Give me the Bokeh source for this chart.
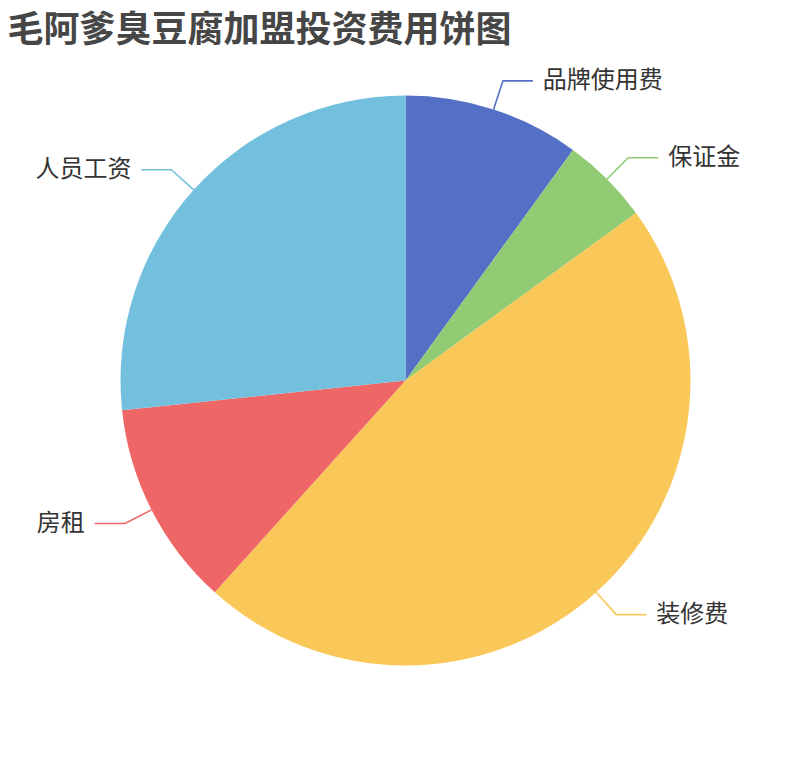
import math
import numpy as np
from bokeh.plotting import figure
from bokeh.models import Range1d, ColumnDataSource
from bokeh.core.properties import value
from bokeh.embed import file_html
from bokeh.resources import INLINE

# ---- data ----
title_text = "毛阿爹臭豆腐加盟投资费用饼图"
names = ["品牌使用费", "保证金", "装修费", "房租", "人员工资"]
amounts = [30000, 15000, 140000, 35000, 80000]
colors = ["#5470c6", "#91cc75", "#fac858", "#ee6666", "#73c0de"]

# ---- layout ----
W, H = 794, 744
CX, CY = 405, 380          # pie centre (data coords, y up)
R = 285
L1, L2, GAP = 30, 30, 10
FONT = "Noto Sans CJK SC"

p = figure(width=W, height=H, output_backend="svg", toolbar_location=None,
           x_range=Range1d(0, W), y_range=Range1d(760 - H, 760),
           min_border=0, outline_line_color=None, background_fill_color="white")
p.axis.visible = False
p.grid.visible = False

vals = np.array(amounts, dtype=float)
frac = vals / vals.sum()
cum_end = np.cumsum(frac)
cum_start = cum_end - frac
start = [math.radians(90 - s * 360) for s in cum_start]
end = [math.radians(90 - e * 360) for e in cum_end]

src = ColumnDataSource(dict(start=start, end=end, color=colors, name=names))
p.wedge(x=CX, y=CY, radius=R, radius_units="screen", start_angle="start", end_angle="end",
        direction="clock", fill_color="color", line_color=None, source=src)

# label lines + labels
for nm, cs, f, col in zip(names, cum_start, frac, colors):
    th = (cs + f / 2) * 2 * math.pi  # clockwise from top
    sx, sy = math.sin(th), math.cos(th)
    x1, y1 = CX + R * sx, CY + R * sy
    x2, y2 = CX + (R + L1) * sx, CY + (R + L1) * sy
    right = sx >= 0
    x3 = x2 + (L2 if right else -L2)
    p.line([x1, x2, x3], [y1, y2, y2], line_color=col, line_width=1.6)
    p.text(x=[x3 + (GAP if right else -GAP)], y=[y2 + 3], text=[nm],
           text_align="left" if right else "right", text_baseline="middle",
           text_font=value(FONT), text_font_size="24px", text_color="#333333")

# title
p.text(x=[7], y=[760 - 25], text=[title_text], text_align="left", text_baseline="middle",
       text_font=value(FONT), text_font_size="36px", text_font_style="bold",
       text_color="#464646")

open("out.html", "w").write(file_html(p, INLINE))
